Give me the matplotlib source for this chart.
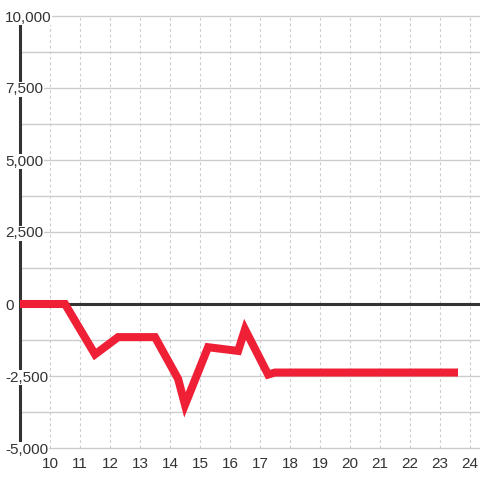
import matplotlib
matplotlib.use("Agg")
import matplotlib.pyplot as plt
from matplotlib.transforms import blended_transform_factory

# series
x_vals = [9.0, 10.5, 11.5, 12.27, 13.5, 14.27, 14.5, 15.27, 16.27, 16.5, 17.27, 17.5, 23.6]
y_vals = [0, 0, -1750, -1150, -1150, -2600, -3500, -1500, -1630, -880, -2450, -2380, -2380]

x_ticks = list(range(10, 25))
y_grid = [-5000, -3750, -2500, -1250, 0, 1250, 2500, 3750, 5000, 6250, 7500, 8750, 10000]
y_labels = [-5000, -2500, 0, 2500, 5000, 7500, 10000]

plt.rcParams['font.family'] = ['Liberation Sans', 'DejaVu Sans']

fig = plt.figure(figsize=(4.8, 4.8), dpi=100)
ax = fig.add_axes([20 / 480, 1 - 448 / 480, 460 / 480, 432 / 480])
ax.set_xlim(9, 9 + 460 / 30)
ax.set_ylim(-5000, 10000)

for s in ['top', 'right', 'bottom']:
    ax.spines[s].set_visible(False)
ax.spines['left'].set_color('#333333')
ax.spines['left'].set_linewidth(2.2)
ax.spines['left'].set_zorder(3)
ax.set_xticks([])
ax.set_yticks([])

for v in y_grid:
    ax.axhline(v, color='#cccccc', lw=1, zorder=1, clip_on=False)
for v in x_ticks:
    ax.axvline(v, color='#cccccc', lw=0.8, ls=(0, (2.5, 2.5)), zorder=1)
ax.axhline(0, color='#333333', lw=2.2, zorder=2)

ax.plot(x_vals, y_vals, color='#ef2036', lw=5.8, zorder=4,
        solid_joinstyle='miter', solid_capstyle='butt')

ty = blended_transform_factory(fig.transFigure, ax.transData)
for v in y_labels:
    ax.text(5 / 480, v, f"{v:,}", transform=ty, ha='left', va='center_baseline',
            fontsize=11, color='#333333', zorder=5, clip_on=False,
            bbox=dict(facecolor='white', edgecolor='none', pad=0.5))

tx = blended_transform_factory(ax.transData, fig.transFigure)
for v in x_ticks:
    ax.text(v, 1 - 462 / 480, str(v), transform=tx, ha='center', va='center_baseline',
            fontsize=11, color='#333333', clip_on=False)

fig.savefig('out.png', dpi=100)
